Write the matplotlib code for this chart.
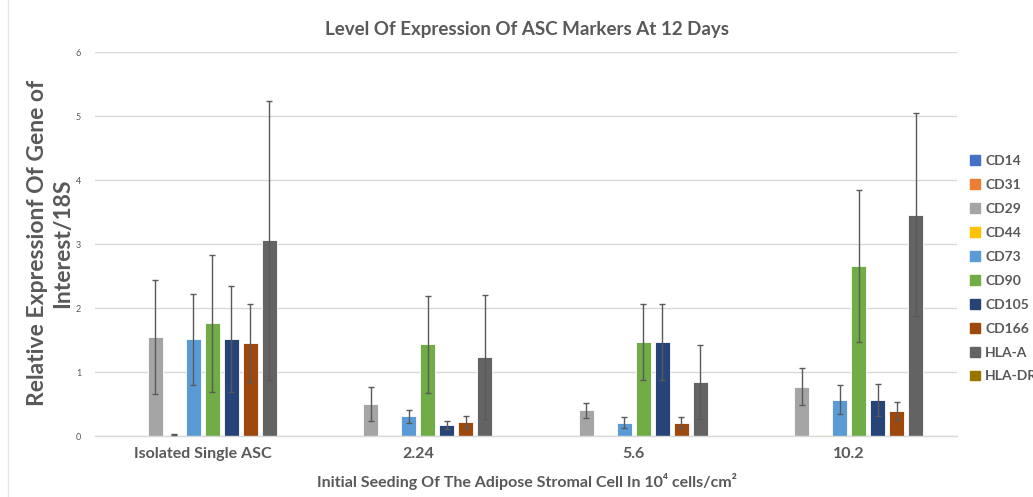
import matplotlib
matplotlib.use("Agg")
import matplotlib.pyplot as plt
import numpy as np
from matplotlib.lines import Line2D

# Data: relative expression (gene of interest / 18S) at 12 days
categories = ["Isolated Single ASC", "2.24", "5.6", "10.2"]
markers = ["CD14", "CD31", "CD29", "CD44", "CD73", "CD90", "CD105", "CD166", "HLA-A", "HLA-DR"]

cd14 = [0.0, 0.0, 0.0, 0.0]
cd31 = [0.0, 0.0, 0.0, 0.0]
cd29 = [1.55, 0.50, 0.40, 0.77]
cd44 = [0.02, 0.0, 0.0, 0.01]
cd73 = [1.51, 0.31, 0.21, 0.57]
cd90 = [1.76, 1.43, 1.47, 2.66]
cd105 = [1.51, 0.17, 1.47, 0.56]
cd166 = [1.45, 0.22, 0.21, 0.39]
hla_a = [3.06, 1.23, 0.84, 3.46]
hla_dr = [0.0, 0.0, 0.0, 0.0]

cd14_err = [0.0, 0.0, 0.0, 0.0]
cd31_err = [0.0, 0.0, 0.0, 0.0]
cd29_err = [0.89, 0.27, 0.115, 0.29]
cd44_err = [0.01, 0.0, 0.0, 0.0]
cd73_err = [0.71, 0.10, 0.09, 0.22]
cd90_err = [1.07, 0.76, 0.60, 1.19]
cd105_err = [0.83, 0.06, 0.60, 0.25]
cd166_err = [0.61, 0.10, 0.08, 0.135]
hla_a_err = [2.18, 0.97, 0.58, 1.58]
hla_dr_err = [0.0, 0.0, 0.0, 0.0]

yticks = [0, 1, 2, 3, 4, 5, 6]

values = [cd14, cd31, cd29, cd44, cd73, cd90, cd105, cd166, hla_a, hla_dr]
errors = [cd14_err, cd31_err, cd29_err, cd44_err, cd73_err, cd90_err,
          cd105_err, cd166_err, hla_a_err, hla_dr_err]
colors = ["#4472C4", "#ED7D31", "#A5A5A5", "#FFC000", "#5B9BD5",
          "#70AD47", "#264478", "#9E480E", "#636363", "#997300"]

FONT = ["Lato", "DejaVu Sans"]
TXT = "#595959"
plt.rcParams["font.family"] = FONT

fig = plt.figure(figsize=(10.33, 4.97), dpi=100)
W, H = 1033, 497
left, right, bottom, top = 95, 957, 436, 52
ax = fig.add_axes([left / W, 1 - bottom / H, (right - left) / W, (bottom - top) / H])

n = len(markers)
x = np.arange(len(categories))
slot = 0.882 / n
bw = slot * 0.80
handles = []
for i, (name, vals, errs, col) in enumerate(zip(markers, values, errors, colors)):
    pos = x - 0.441 + slot * (i + 0.5)
    errs_arr = np.array(errs)
    ax.bar(pos, vals, width=bw, color=col, edgecolor="white", linewidth=0.6, zorder=2)
    mask = errs_arr > 0
    if mask.any():
        ax.errorbar(pos[mask], np.array(vals)[mask], yerr=errs_arr[mask], fmt="none",
                    ecolor="#595959", elinewidth=1.0, capsize=2.5, capthick=1.0, zorder=3)
    handles.append(plt.Rectangle((0, 0), 1, 1, color=col))

ax.set_xlim(-0.5, len(categories) - 0.5)
ax.set_ylim(0, 6)
ax.set_yticks(yticks)
ax.set_yticklabels([str(t) for t in yticks], fontsize=6.5, color=TXT)
ax.yaxis.grid(True, color="#D9D9D9", linewidth=1.0, zorder=0)
ax.set_axisbelow(True)
ax.tick_params(axis="y", length=0, pad=10)
ax.tick_params(axis="x", length=0, pad=8)
ax.set_xticks(x)
ax.set_xticklabels(categories, fontsize=11.5, fontweight="bold", color=TXT)
for s in ["top", "right", "left"]:
    ax.spines[s].set_visible(False)
ax.spines["bottom"].set_color("#D9D9D9")
ax.spines["bottom"].set_linewidth(1.0)

fig.text(527 / W, 1 - 30 / H, "Level Of Expression Of ASC Markers At 12 Days",
         ha="center", va="center", fontsize=13.5, fontweight="bold", color=TXT)
fig.text(50 / W, 1 - 243 / H, "Relative Expressionf Of Gene of\nInterest/18S",
         ha="center", va="center", rotation=90, fontsize=16.5, fontweight="bold",
         color=TXT, linespacing=1.25)
fig.text(527 / W, 1 - 481 / H,
         "Initial Seeding Of The Adipose Stromal Cell In 10\u2074 cells/cm\u00b2",
         ha="center", va="center", fontsize=11.5, fontweight="bold", color=TXT)

leg = fig.legend(handles, markers, loc="upper left",
                 bbox_to_anchor=(970 / W, 1 - 155 / H), frameon=False,
                 borderpad=0, borderaxespad=0,
                 handlelength=0.7, handleheight=0.7, handletextpad=0.4,
                 labelspacing=0.86, prop={"family": FONT, "size": 10, "weight": "bold"})
for t in leg.get_texts():
    t.set_color(TXT)

fig.add_artist(Line2D([8 / W, 8 / W], [0, 1], color="#E6E6E6", linewidth=1.0,
                      transform=fig.transFigure))

fig.savefig("out.png", dpi=100)
